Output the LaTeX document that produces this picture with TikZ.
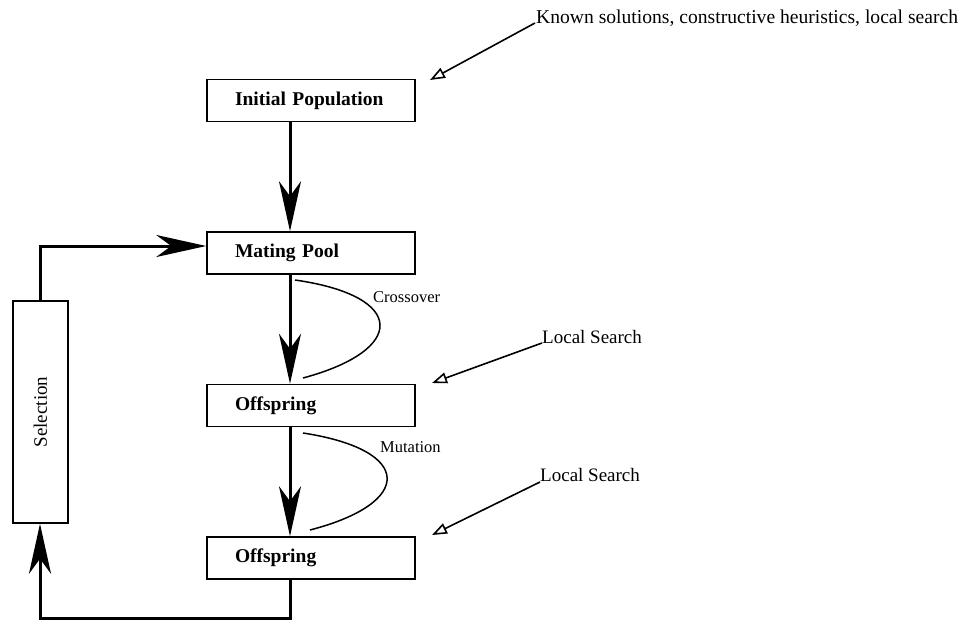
\documentclass[tikz,border=0pt]{standalone}
\usepackage{fontspec}
\setmainfont{Liberation Serif}
\usetikzlibrary{arrows.meta}
\begin{document}
\begin{tikzpicture}[x=1pt,y=-1pt,
  box/.style={draw,line width=1.5pt,minimum width=208pt,minimum height=42pt,
    inner xsep=28pt,text width=152pt,align=left,
    font=\fontsize{19.5}{22}\selectfont\bfseries},
  flow/.style={line width=3pt,-{Stealth[length=50pt,width=22pt,inset=15pt]}},
  hint/.style={line width=1.6pt,-{Triangle[open,length=15pt,width=11pt,line width=1.6pt]}},
  op/.style={line width=1.5pt},
  lab/.style={font=\fontsize{19}{22}\selectfont,anchor=west,inner sep=0pt},
  small/.style={font=\fontsize{16.5}{19}\selectfont,anchor=west,inner sep=0pt}]
\useasboundingbox (0,0) rectangle (966,624);

\node[box] (init) at (311,100.5) {Initial Population};
\node[box] (mate) at (311,253) {Mating Pool};
\node[box] (off1) at (311,405.5) {Offspring};
\node[box] (off2) at (311,558) {Offspring};
\node[draw,line width=1.5pt,minimum width=55pt,minimum height=222pt,inner sep=0pt] (sel) at (40.5,412) {};
\node[rotate=90,font=\fontsize{19}{21}\selectfont] at (sel.center) {Selection};

\draw[flow] (init.south -| 290,0) -- (mate.north -| 290,0);
\draw[flow] (mate.south -| 290,0) -- (off1.north -| 290,0);
\draw[flow] (off1.south -| 290,0) -- (off2.north -| 290,0);

\coordinate (tl) at (40,246);
\coordinate (bl) at (40,618);
\coordinate (br) at (290,618);
\draw[flow] (sel.north -| tl) -- (tl) -- (tl -| mate.west);
\draw[flow] (off2.south -| br) -- (br) -- (bl) -- (sel.south -| bl);

% operator curves
\draw[op] (295,280) .. controls (407,296) and (407,350) .. (303,378);
\node[small] (cx) at (373,297) {Crossover};
\draw[op] (303,433) .. controls (414,450) and (414,503) .. (310,530);
\node[small] (mu) at (380,447) {Mutation};

% hints
\node[lab,font=\fontsize{19.6}{22}\selectfont] (k) at (536,18) {Known solutions, constructive heuristics, local search};
\coordinate (k0) at (535,23);
\coordinate (k1) at (430,80);
\draw[hint] (k0) -- (k1);
\node[lab] (ls1) at (542,337) {Local Search};
\coordinate (l10) at (542,343);
\coordinate (l11) at (432,383);
\draw[hint] (l10) -- (l11);
\node[lab] (ls2) at (540,475) {Local Search};
\coordinate (l20) at (540,482);
\coordinate (l21) at (432,535);
\draw[hint] (l20) -- (l21);
\end{tikzpicture}
\end{document}
